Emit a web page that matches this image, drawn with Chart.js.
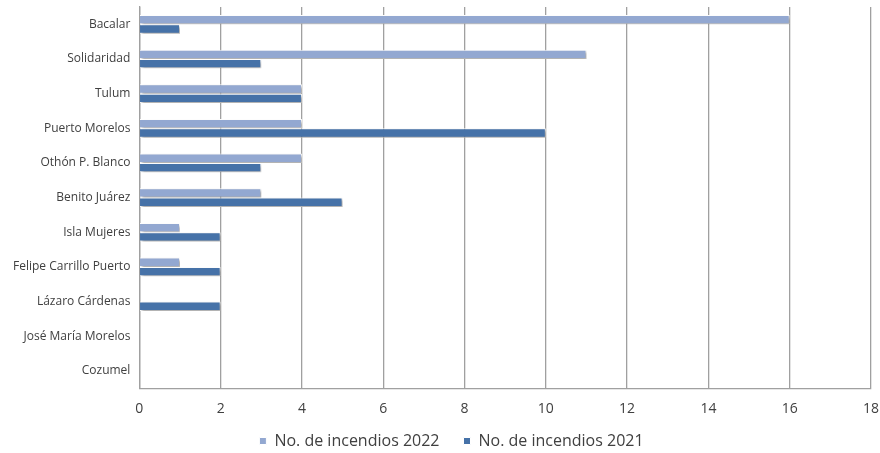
<!DOCTYPE html>
<html>
<head>
<meta charset="utf-8">
<script src="https://cdn.jsdelivr.net/npm/chart.js@4/dist/chart.umd.min.js"></script>
<style>
  html, body { margin: 0; padding: 0; background: #fff; }
  #wrap { width: 880px; height: 453px; position: relative; }
</style>
</head>
<body>
<div id="wrap"><canvas id="c"></canvas></div>
<script>
  // Datos
  const municipios = ['Bacalar', 'Solidaridad', 'Tulum', 'Puerto Morelos', 'Othón P. Blanco',
    'Benito Juárez', 'Isla Mujeres', 'Felipe Carrillo Puerto', 'Lázaro Cárdenas',
    'José María Morelos', 'Cozumel'];
  const incendios2022 = [16, 11, 4, 4, 4, 3, 1, 1, 0, 0, 0];
  const incendios2021 = [1, 3, 4, 10, 3, 5, 2, 2, 2, 0, 0];
  const xTicks = [0, 2, 4, 6, 8, 10, 12, 14, 16, 18];

  const FONT = "'Open Sans', 'DejaVu Sans', sans-serif";
  const LEGEND_PAD = 24;   // separación entre elementos de la leyenda

  // sombra suave bajo las barras
  const barShadow = {
    id: 'barShadow',
    beforeDatasetsDraw(chart) {
      const ctx = chart.ctx;
      ctx.save();
      ctx.shadowColor = 'rgba(0,0,0,0.35)';
      ctx.shadowBlur = 3;
      ctx.shadowOffsetX = 2;
      ctx.shadowOffsetY = 2;
    },
    afterDatasetsDraw(chart) { chart.ctx.restore(); }
  };

  // sube la leyenda para que el padding grande solo separe horizontalmente
  const legendLift = {
    id: 'legendLift',
    afterLayout(chart) {
      const l = chart.legend;
      if (!l) return;
      const dy = LEGEND_PAD - 4;
      l.top -= dy; l.bottom -= dy;
      l.left += 14; l.right += 14;   // centrada bajo el área del gráfico
    }
  };

  new Chart(document.getElementById('c'), {
    type: 'bar',
    data: {
      labels: municipios,
      datasets: [
        {
          label: 'No. de incendios 2022',
          data: incendios2022.map(v => v || null),
          backgroundColor: '#93A8D1',
          borderColor: '#ffffff',
          borderWidth: 1,
          borderSkipped: 'start',
          categoryPercentage: 0.54,
          barPercentage: 1.0
        },
        {
          label: 'No. de incendios 2021',
          data: incendios2021.map(v => v || null),
          backgroundColor: '#4672A8',
          borderColor: '#ffffff',
          borderWidth: 1,
          borderSkipped: 'start',
          categoryPercentage: 0.54,
          barPercentage: 1.0
        }
      ]
    },
    plugins: [barShadow, legendLift],
    options: {
      indexAxis: 'y',
      responsive: true,
      maintainAspectRatio: false,
      animation: false,
      layout: { padding: { top: 7, right: 9, left: 4, bottom: -26 } },
      scales: {
        x: {
          min: 0, max: 18,
          afterBuildTicks: (axis) => { axis.ticks = xTicks.map(v => ({ value: v })); },
          afterFit: (s) => { s.paddingRight = 0; s.paddingLeft = 0; },
          grid: { color: '#a0a0a0', lineWidth: 1.3, drawTicks: false },
          border: { color: '#a0a0a0', width: 1.3 },
          ticks: { color: '#404040', font: { family: FONT, size: 14 }, padding: 12 }
        },
        y: {
          afterFit: (s) => { s.paddingTop = 0; s.paddingBottom = 0; },
          grid: { display: false, drawTicks: false },
          border: { color: '#a0a0a0', width: 1.3 },
          ticks: { color: '#404040', font: { family: FONT, size: 12 }, padding: 9 }
        }
      },
      plugins: {
        legend: {
          position: 'bottom',
          labels: {
            color: '#404040',
            font: { family: FONT, size: 16 },
            boxWidth: 7, boxHeight: 7,
            padding: LEGEND_PAD
          }
        },
        tooltip: { enabled: false }
      }
    }
  });
</script>
</body>
</html>
